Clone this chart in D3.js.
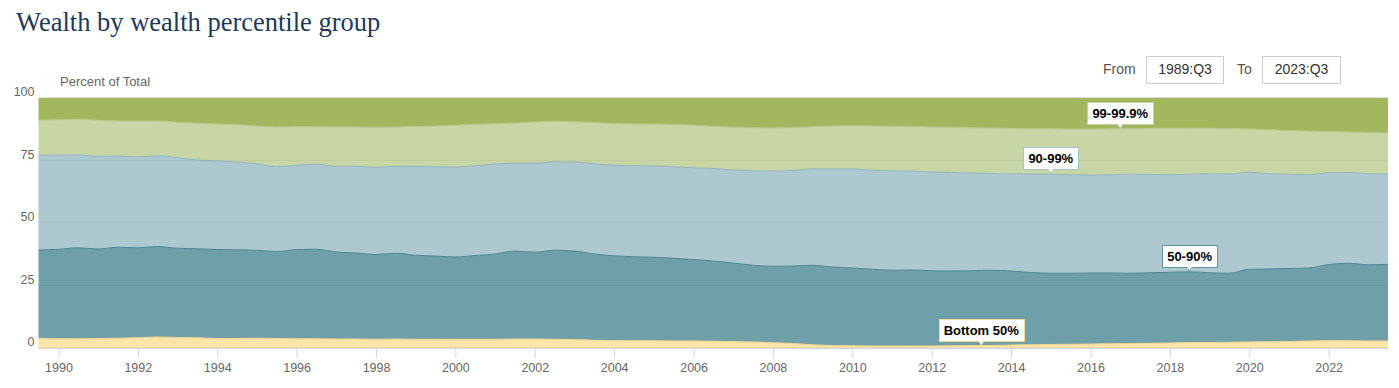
<!DOCTYPE html>
<html>
<head>
<meta charset="utf-8">
<script src="https://cdn.jsdelivr.net/npm/d3@7"></script>
<style>
  html, body { margin: 0; padding: 0; background: #fff; }
  svg { display: block; }
</style>
</head>
<body>
<svg id="chart" width="1399" height="388"></svg>
<script>
// ---------------- DATA ----------------
const quarters = [
  "1989:Q3",
  "1990:Q1","1990:Q3","1991:Q1","1991:Q3","1992:Q1","1992:Q3","1993:Q1","1993:Q3","1994:Q1","1994:Q3",
  "1995:Q1","1995:Q3","1996:Q1","1996:Q3","1997:Q1","1997:Q3","1998:Q1","1998:Q3","1999:Q1","1999:Q3",
  "2000:Q1","2000:Q3","2001:Q1","2001:Q3","2002:Q1","2002:Q3","2003:Q1","2003:Q3","2004:Q1","2004:Q3",
  "2005:Q1","2005:Q3","2006:Q1","2006:Q3","2007:Q1","2007:Q3","2008:Q1","2008:Q3","2009:Q1","2009:Q3",
  "2010:Q1","2010:Q3","2011:Q1","2011:Q3","2012:Q1","2012:Q3","2013:Q1","2013:Q3","2014:Q1","2014:Q3",
  "2015:Q1","2015:Q3","2016:Q1","2016:Q3","2017:Q1","2017:Q3","2018:Q1","2018:Q3","2019:Q1","2019:Q3",
  "2020:Q1","2020:Q3","2021:Q1","2021:Q3","2022:Q1","2022:Q3","2023:Q1","2023:Q3"
];

const bottom50 = [
  3.9,3.7,3.7,3.8,3.9,4.1,4.4,4.2,4.1,3.8,3.8,
  3.9,3.8,3.7,3.7,3.6,3.6,3.5,3.6,3.5,3.5,
  3.5,3.5,3.5,3.6,3.6,3.5,3.4,3.1,3.0,2.9,
  2.9,2.8,2.8,2.7,2.6,2.4,2.1,1.8,1.3,1.0,
  0.9,0.8,0.8,0.8,0.8,0.9,1.0,1.0,1.2,1.3,
  1.4,1.5,1.6,1.7,1.8,1.9,2.0,2.2,2.2,2.3,
  2.4,2.5,2.6,2.8,2.9,2.9,2.8,2.8
];
const p50to90 = [
  35.3,35.8,36.4,35.8,36.4,36.0,36.2,35.7,35.6,35.6,35.5,
  35.2,34.8,35.7,35.8,34.8,34.4,33.9,34.3,33.6,33.3,
  32.9,33.5,34.1,35.2,34.7,35.6,35.4,34.5,33.9,33.6,
  33.4,33.1,32.6,32.1,31.4,30.7,30.6,31.0,31.8,31.4,
  31.1,30.7,30.3,30.4,30.1,29.9,29.9,30.1,29.6,28.9,
  28.5,28.4,28.4,28.3,28.1,28.2,28.3,28.3,27.9,27.6,
  29.1,29.1,29.2,29.2,30.5,31.0,30.5,30.7
];
const p90to99 = [
  37.9,37.7,37.2,37.0,36.5,36.3,36.3,36.2,35.5,35.4,35.1,
  34.6,33.9,33.7,34.0,34.3,34.7,34.9,34.8,35.5,35.7,
  36.0,35.9,36.0,35.1,35.6,35.4,35.6,36.1,36.2,36.4,
  36.5,36.6,36.7,37.0,37.2,37.8,38.1,38.2,38.5,39.2,
  39.6,39.6,39.8,39.6,39.5,39.4,39.1,38.7,38.8,39.4,
  39.6,39.4,39.2,39.3,39.6,39.3,39.0,39.0,39.6,39.7,
  38.8,38.1,37.7,37.3,36.7,36.3,36.4,36.1
];
const p99to999 = [
  14.1,14.1,14.2,14.5,14.0,14.4,13.9,14.2,14.7,14.8,14.9,
  15.1,15.9,15.4,15.0,15.7,15.7,16.0,15.7,16.0,16.3,
  16.7,16.6,16.1,16.1,16.5,16.2,16.1,16.5,16.7,16.7,
  16.8,16.9,17.0,16.9,17.1,17.2,17.2,17.2,16.9,17.2,
  17.3,17.7,17.8,17.8,18.0,18.1,18.1,18.2,18.3,18.1,
  18.2,18.3,18.4,18.4,18.3,18.5,18.6,18.4,18.2,18.2,
  17.3,17.6,17.5,17.5,16.5,16.2,16.5,16.4
];
const top01 = [
  8.8,8.7,8.5,8.9,9.2,9.2,9.2,9.7,10.1,10.4,10.7,
  11.2,11.6,11.5,11.5,11.6,11.6,11.7,11.6,11.4,11.2,
  10.9,10.5,10.3,10.0,9.6,9.3,9.5,9.8,10.2,10.4,
  10.4,10.6,10.9,11.3,11.7,11.9,12.0,11.8,11.5,11.2,
  11.1,11.2,11.3,11.4,11.6,11.7,11.9,12.0,12.1,12.3,
  12.3,12.4,12.4,12.3,12.2,12.1,12.1,12.1,12.1,12.2,
  12.4,12.7,13.0,13.2,13.4,13.6,13.8,14.0
];

const seriesNames = ["Bottom 50%", "50-90%", "90-99%", "99-99.9%", "Top 0.1%"];
const yTickValues = [0, 25, 50, 75, 100];
const labelSeries = ["Bottom 50%", "50-90%", "90-99%", "99-99.9%"];
const labelQuarters = ["2013:Q2", "2018:Q3", "2015:Q1", "2016:Q4"];
const titleText = "Wealth by wealth percentile group";
const yTitle = "Percent of Total";
const fromQuarter = "1989:Q3";
const toQuarter = "2023:Q3";

// ---------------- STYLE ----------------
const fills  = ["#fde5a7", "#6fa0aa", "#adc9cf", "#c8d5a4", "#a2b65e"];
const lines  = ["#f3d58e", "#4a8592", "#8fb5c1", "#b7c98c", "#9ab257"];
const borders= ["#f1d894", "#5d97a3", "#a3c3ca", "#c5d3a0", "#a2b65e"];

const W = 1399, H = 388;
const plot = { left: 38.5, right: 1388, top: 98, bottom: 348 };

const parseQ = s => { const [y, q] = s.split(":Q"); return new Date(+y, (+q - 1) * 3, 1); };

const svg = d3.select("#chart");
const fontSans = "'Liberation Sans', Arial, Helvetica, sans-serif";

// Build table
const valuesBySeries = [bottom50, p50to90, p90to99, p99to999, top01];
const table = quarters.map((q, i) => {
  const row = { date: parseQ(q) };
  seriesNames.forEach((n, k) => row[n] = valuesBySeries[k][i]);
  return row;
});

const stack = d3.stack().keys(seriesNames);
const stacked = stack(table);

const x = d3.scaleTime()
  .domain([parseQ(quarters[0]), parseQ(quarters[quarters.length - 1])])
  .range([plot.left, plot.right]);
const y = d3.scaleLinear().domain([0, 100]).range([plot.bottom, plot.top]);

// Title
svg.append("text")
  .attr("x", 16).attr("y", 31)
  .attr("font-family", "Georgia, 'Liberation Serif', 'DejaVu Serif', serif")
  .attr("font-size", 26.5)
  .attr("fill", "#1d3a5a")
  .text(titleText);

// From / To controls
const ctrl = svg.append("g").attr("font-family", fontSans);
ctrl.append("text").attr("x", 1103).attr("y", 74).attr("font-size", 14).attr("fill", "#555").text("From");
ctrl.append("rect").attr("x", 1146.5).attr("y", 56.5).attr("width", 77).attr("height", 27)
  .attr("fill", "#fff").attr("stroke", "#cccccc");
ctrl.append("text").attr("x", 1185).attr("y", 74).attr("text-anchor", "middle").attr("font-size", 14).attr("fill", "#333").text(fromQuarter);
ctrl.append("text").attr("x", 1237).attr("y", 74).attr("font-size", 14).attr("fill", "#555").text("To");
ctrl.append("rect").attr("x", 1262.5).attr("y", 56.5).attr("width", 78).attr("height", 27)
  .attr("fill", "#fff").attr("stroke", "#cccccc");
ctrl.append("text").attr("x", 1301.5).attr("y", 74).attr("text-anchor", "middle").attr("font-size", 14).attr("fill", "#333").text(toQuarter);

// Y title
svg.append("text")
  .attr("x", 60).attr("y", 86)
  .attr("font-family", fontSans).attr("font-size", 13).attr("fill", "#666")
  .text(yTitle);

// Areas
const area = d3.area()
  .x(d => x(d.data.date))
  .y0(d => y(d[0]))
  .y1(d => y(d[1]))
  .curve(d3.curveMonotoneX);
const topLine = d3.line()
  .x(d => x(d.data.date))
  .y(d => y(d[1]))
  .curve(d3.curveMonotoneX);

const gAreas = svg.append("g");
gAreas.selectAll("path.area").data(stacked).join("path")
  .attr("class", "area")
  .attr("d", area)
  .attr("fill", (d, i) => fills[i]);
gAreas.selectAll("path.top").data(stacked.slice(0, 4)).join("path")
  .attr("class", "top")
  .attr("d", topLine)
  .attr("fill", "none")
  .attr("stroke", (d, i) => lines[i])
  .attr("stroke-width", 1);

// Gridlines (drawn lightly over areas)
svg.append("g").selectAll("line").data(yTickValues).join("line")
  .attr("x1", plot.left).attr("x2", plot.right)
  .attr("y1", d => Math.round(y(d)) - 0.5).attr("y2", d => Math.round(y(d)) - 0.5)
  .attr("stroke", d => d === 100 ? "#e0e0e0" : "rgba(0,0,0,0.045)")
  .attr("stroke-width", 1);

// Y axis labels
const yAxis = d3.axisLeft(y).tickValues(yTickValues).tickSize(0).tickPadding(4);
const gy = svg.append("g").attr("transform", `translate(${plot.left},0)`).call(yAxis);
gy.select(".domain").remove();
gy.selectAll("text")
  .attr("font-family", fontSans).attr("font-size", 12.5).attr("fill", "#666")
  .attr("dy", "-0.2em");

// X axis
const xAxis = d3.axisBottom(x).ticks(d3.timeYear.every(2)).tickSize(10).tickPadding(5)
  .tickFormat(d3.timeFormat("%Y"));
const gx = svg.append("g").attr("transform", `translate(0,${plot.bottom})`).call(xAxis);
gx.select(".domain").attr("stroke", "#ccd6eb").attr("d", `M${plot.left},0.5H${plot.right}`);
gx.selectAll(".tick line").attr("stroke", "#ccd6eb");
gx.selectAll("text").attr("font-family", fontSans).attr("font-size", 12.5).attr("fill", "#666");

// Data labels
function stackTopAt(seriesIdx, date) {
  const s = stacked[seriesIdx];
  const dates = s.map(d => d.data.date);
  const i = d3.bisectLeft(dates, date);
  if (i <= 0) return s[0][1];
  if (i >= s.length) return s[s.length - 1][1];
  const a = s[i - 1], b = s[i];
  const t = (date - a.data.date) / (b.data.date - a.data.date);
  return a[1] + (b[1] - a[1]) * t;
}

const gLabels = svg.append("g").attr("font-family", fontSans);
labelSeries.forEach((name, j) => {
  const k = seriesNames.indexOf(name);
  const date = parseQ(labelQuarters[j]);
  const ax = x(date);
  const ay = y(stackTopAt(k, date));
  const g = gLabels.append("g");
  const rect = g.append("rect");
  const txt = g.append("text")
    .attr("font-size", 13).attr("font-weight", "bold").attr("fill", "#000")
    .attr("text-anchor", "middle")
    .attr("x", ax).attr("y", ay - 10.5)
    .text(name);
  const tw = txt.node().getComputedTextLength();
  const bw = Math.round(tw + 10), bh = 22;
  const bx = Math.round(ax - bw / 2) + 0.5;
  const by = Math.round(ay - 5 - bh) + 0.5;
  rect.attr("x", bx).attr("y", by).attr("width", bw).attr("height", bh)
    .attr("fill", "#fff").attr("stroke", borders[k]).attr("stroke-width", 1);
  txt.attr("y", by + 15.5);
  g.insert("path", "rect")
    .attr("d", `M${ax - 2},${by + bh} L${ax},${ay} L${ax + 2},${by + bh}`)
    .attr("fill", "#fff").attr("stroke", borders[k]).attr("stroke-width", 1);
  g.append("rect").attr("x", ax - 2).attr("y", by + bh - 1).attr("width", 4).attr("height", 2).attr("fill", "#fff");
});
</script>
</body>
</html>
